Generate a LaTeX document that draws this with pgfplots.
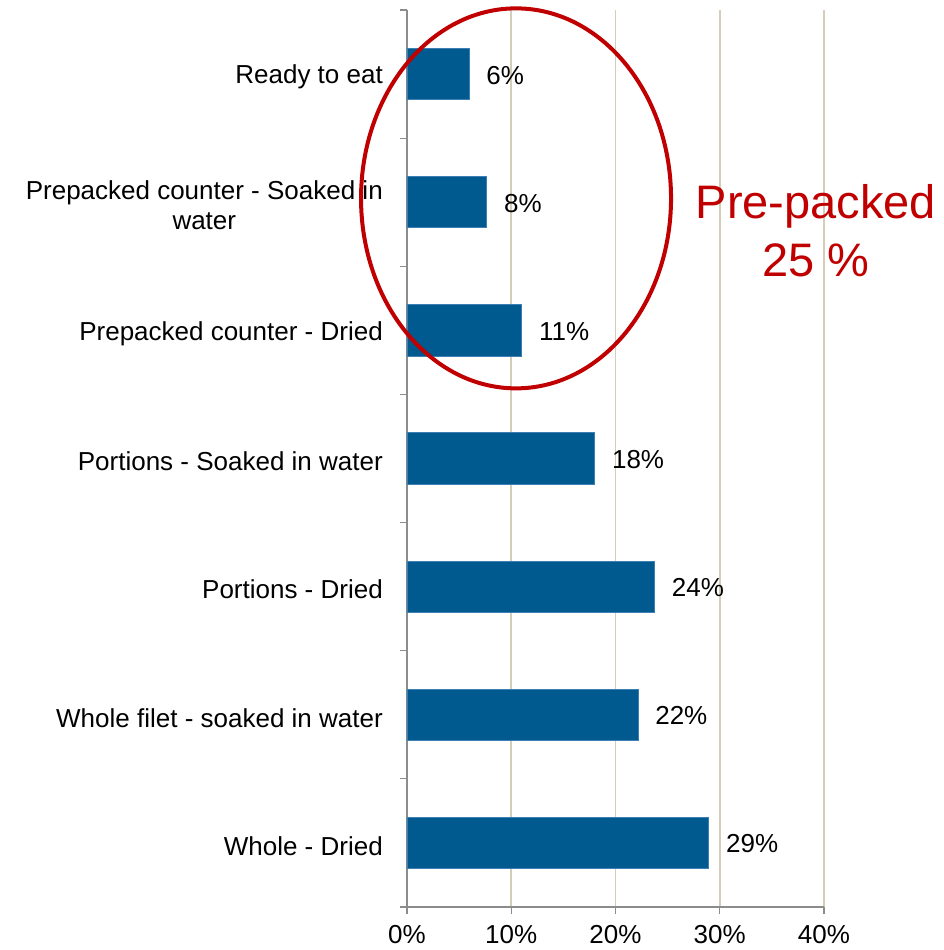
\documentclass[border=0pt]{standalone}
\usepackage{pgfplots}
\pgfplotsset{compat=1.18}
\usepackage{fontspec}
\setmainfont{Liberation Sans}
\definecolor{barblue}{HTML}{00598F}
\definecolor{baredge}{HTML}{3B7FB5}
\definecolor{gridtan}{HTML}{D6CCBA}
\definecolor{axgray}{HTML}{8C8C8C}
\definecolor{annred}{HTML}{C00000}
\begin{document}
\begin{tikzpicture}
\useasboundingbox (-407pt,-43pt) rectangle (536pt,907pt);
\begin{axis}[
  at={(0pt,0pt)}, anchor=south west,
  scale only axis, width=417pt, height=897pt,
  xbar, bar width=0.4,
  xmin=0, xmax=40, ymin=-0.5, ymax=6.5,
  clip=false,
  axis x line*=bottom, axis y line*=left,
  axis line style={axgray, line width=1.2pt, -},
  xtick={0,10,20,30,40},
  xticklabels={0\%,10\%,20\%,30\%,40\%},
  xmajorgrids,
  every axis grid/.style={draw=gridtan, line width=1.6pt},
  ytick={-0.5,0.5,1.5,2.5,3.5,4.5,5.5,6.5},
  yticklabels={},
  extra y ticks={0,1,2,3,4,5,6},
  extra y tick labels={Whole - Dried, Whole filet - soaked in water, Portions - Dried, Portions - Soaked in water, Prepacked counter - Dried, {Prepacked counter - Soaked in\\water}, Ready to eat},
  extra y tick style={major tick length=0pt, yticklabel style={align=center, inner sep=0pt, xshift=-24pt, yshift=-3pt}},
  tick align=outside,
  major tick length=7pt,
  tick style={axgray, line width=1.2pt},
  tick label style={font=\fontsize{26}{30}\selectfont, text=black},
  xticklabel style={inner sep=0pt, yshift=-11pt},
  /pgf/number format/assume math mode=true,
  point meta=explicit symbolic,
  nodes near coords,
  every node near coord/.append style={anchor=west, inner sep=0pt, xshift=17pt, yshift=-1pt, font=\fontsize{26}{30}\selectfont, text=black},
  after end axis/.append code={
    \draw[annred, line width=4pt] (axis cs:10.46,5.03) ellipse [x radius=155pt, y radius=190pt];
    \node[annred, align=center, font=\fontsize{47}{58}\selectfont, inner sep=0pt] at (axis cs:39.23,4.777) {Pre-packed\\25 \%};
  },
]
\addplot[fill=barblue, draw=baredge, line width=0.8pt] coordinates {
  (28.95,0) [29\%]
  (22.15,1) [22\%]
  (23.75,2) [24\%]
  (18.0,3) [18\%]
  (11.0,4) [11\%]
  (7.65,5) [8\%]
  (5.95,6) [6\%]
};
\end{axis}
\end{tikzpicture}
\end{document}
